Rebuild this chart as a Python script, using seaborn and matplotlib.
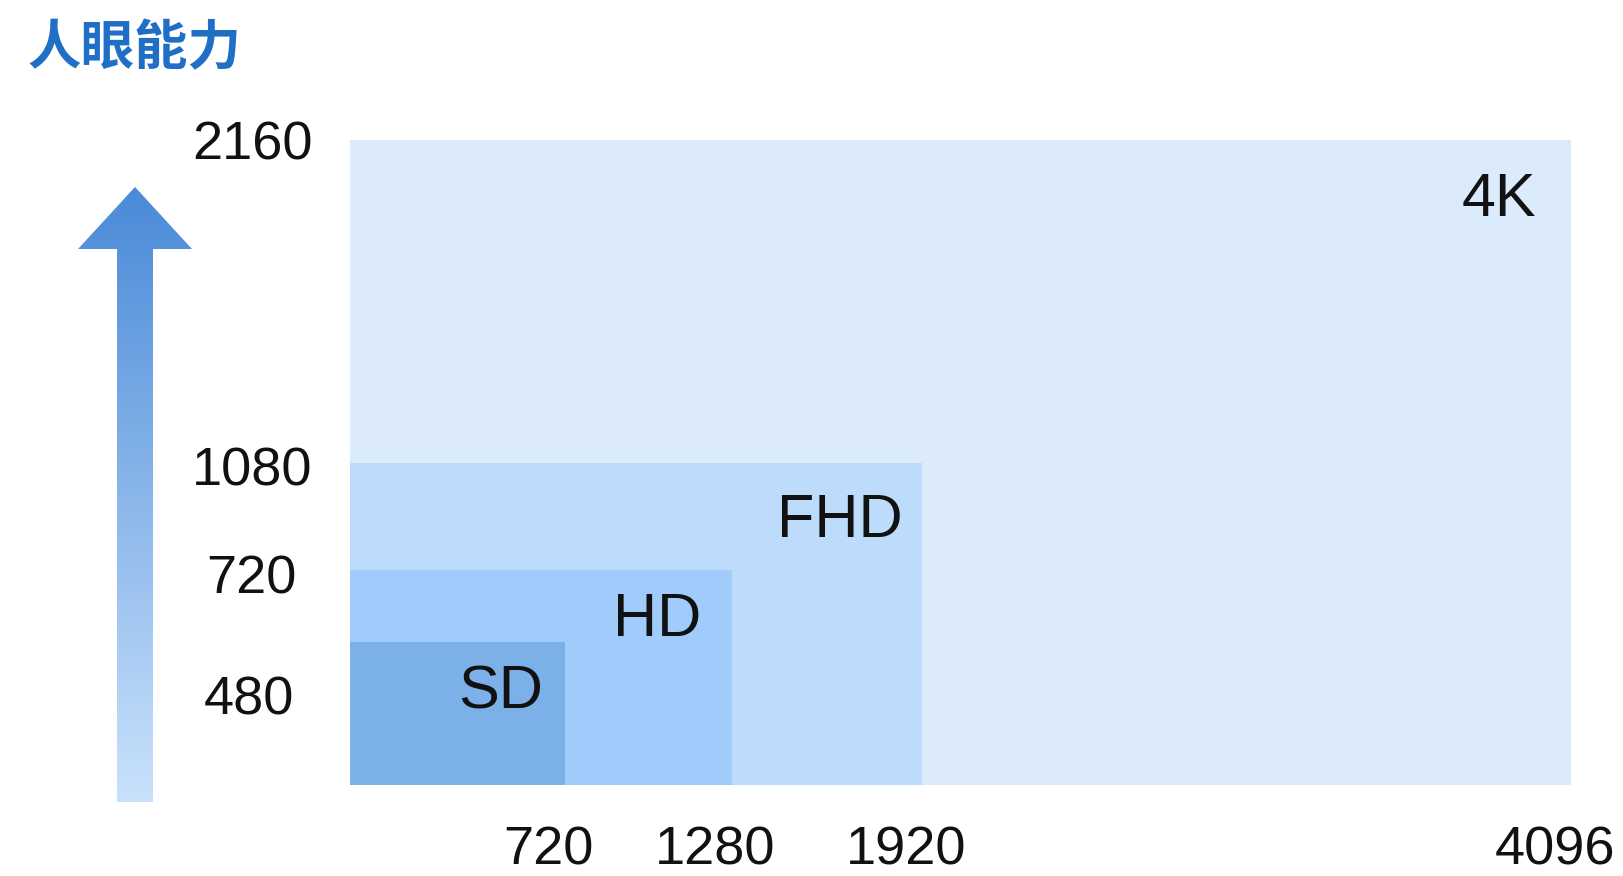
import numpy as np
import matplotlib
matplotlib.use("Agg")
import matplotlib.pyplot as plt
import matplotlib.transforms as mtransforms
from matplotlib.patches import Polygon
import seaborn as sns

# Display resolutions (width x height in pixels)
formats = ["4K", "FHD", "HD", "SD"]
widths = [4096, 1920, 1280, 720]
heights = [2160, 1080, 720, 480]
fill_colors = ["#dbebfc", "#bddbfb", "#a0cbfb", "#7bb1e8"]

x_ticks = [720, 1280, 1920, 4096]
x_tick_labels = ["720", "1280", "1920", "4096"]
y_ticks = [480, 720, 1080, 2160]
y_tick_labels = ["480", "720", "1080", "2160"]

title = "人眼能力"

sns.set_theme(style="white")
plt.rcParams["font.family"] = ["Liberation Sans", "Noto Sans CJK SC", "DejaVu Sans"]

W, H = 1624, 876
fig = plt.figure(figsize=(W / 100, H / 100), dpi=100)
fig.patch.set_facecolor("white")

# Main axes: origin at (350, 785) px, top-right at (1571, 140) px
ax = fig.add_axes([350 / W, (H - 785) / H, 1221 / W, 645 / H])
ax.set_xlim(0, 4096)
ax.set_ylim(0, 2160)
ax.set_facecolor("none")

for w, h, c in zip(widths, heights, fill_colors):
    ax.bar(0, h, width=w, align="edge", color=c, edgecolor="none", linewidth=0)

# Format names, right-aligned inside the top-right corner of each box
label_offsets = {"4K": (-35, -60), "FHD": (-20, -59), "HD": (-30, -51), "SD": (-22, -51)}
for fmt, w, h in zip(formats, widths, heights):
    dx, dy = label_offsets[fmt]
    off = mtransforms.offset_copy(ax.transData, fig=fig, x=dx, y=dy, units="dots")
    ax.text(w, h, fmt, transform=off, ha="right", va="center",
            fontsize=44, color="#111111")

sns.despine(ax=ax, left=True, bottom=True)
ax.set_xticks(x_ticks)
ax.set_xticklabels(x_tick_labels)
ax.set_yticks(y_ticks)
ax.set_yticklabels(y_tick_labels)
ax.tick_params(axis="both", length=0, labelsize=39, colors="#111111")
ax.tick_params(axis="x", pad=29)
ax.tick_params(axis="y", pad=27)
ax.grid(False)

# Nudge the tick labels into place
for lbl in ax.get_xticklabels():
    lbl.set_transform(lbl.get_transform() + mtransforms.ScaledTranslation(-16 / 100, 0, fig.dpi_scale_trans))
y_shift = {"480": (-18, -53), "720": (-16, -4), "1080": (0, -3), "2160": (0, 0)}
for lbl in ax.get_yticklabels():
    dx, dy = y_shift[lbl.get_text()]
    lbl.set_transform(lbl.get_transform() + mtransforms.ScaledTranslation(dx / 100, dy / 100, fig.dpi_scale_trans))

# Overlay in pixel coordinates for the title and gradient arrow
ov = fig.add_axes([0, 0, 1, 1], zorder=5)
ov.set_xlim(0, W)
ov.set_ylim(H, 0)
ov.axis("off")
ov.patch.set_alpha(0)

ov.text(28, 49, title, fontsize=38.5, fontweight="bold", color="#1f6fc6",
        ha="left", va="center", family=["Noto Sans CJK SC", "DejaVu Sans"])

arrow_pts = [(135, 187), (192, 249), (153, 249), (153, 802),
             (117, 802), (117, 249), (78, 249)]
arrow = Polygon(arrow_pts, closed=True, facecolor="none", edgecolor="none",
                transform=ov.transData)
ov.add_patch(arrow)
grad_cmap = sns.blend_palette(["#4a8ad8", "#c9e2fc"], as_cmap=True)
grad = np.linspace(0, 1, 256).reshape(-1, 1)
img = ov.imshow(grad, cmap=grad_cmap, extent=(78, 192, 802, 187), aspect="auto",
                interpolation="bilinear")
img.set_clip_path(arrow)
ov.set_xlim(0, W)
ov.set_ylim(H, 0)

fig.savefig("out.png", dpi=100, facecolor="white")
